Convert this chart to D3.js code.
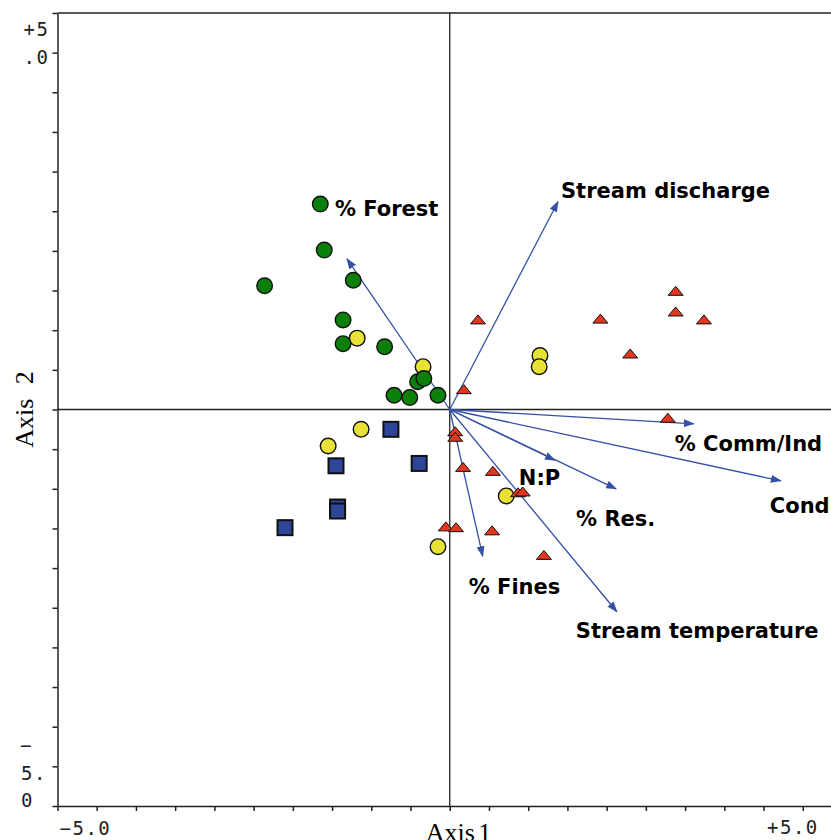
<!DOCTYPE html>
<html>
<head>
<meta charset="utf-8">
<script src="https://cdn.jsdelivr.net/npm/d3@7"></script>
<style>
  body { margin: 0; background: #fff; }
  svg { display: block; }
</style>
</head>
<body>
<svg id="chart" width="831" height="840"></svg>
<script>
// site scores, axis 1 / axis 2
var greenX = [-1.65, -1.60, -2.36, -1.23, -1.36, -1.36, -0.83, -0.41, -0.33, -0.71, -0.51, -0.15];
var greenY = [2.59, 2.01, 1.56, 1.63, 1.13, 0.83, 0.79, 0.35, 0.39, 0.18, 0.15, 0.18];

var yellowX = [-1.18, -0.34, 1.15, 1.14, -1.13, -1.55, 0.72, -0.15];
var yellowY = [0.90, 0.54, 0.68, 0.54, -0.25, -0.46, -1.09, -1.73];

var blueX = [-0.75, -1.45, -0.39, -1.43, -1.43, -2.10];
var blueY = [-0.25, -0.71, -0.68, -1.23, -1.28, -1.49];

var redX = [0.36, 1.92, 2.88, 2.88, 3.24, 2.30, 0.18, 2.78, 0.07, 0.07, 0.17, 0.55, 0.87, 0.93, -0.05, 0.08, 0.54, 1.20];
var redY = [1.13, 1.14, 1.49, 1.23, 1.13, 0.70, 0.25, -0.11, -0.28, -0.35, -0.73, -0.78, -1.05, -1.04, -1.48, -1.49, -1.53, -1.84];

// environmental vectors
var vecNames = ["Stream discharge", "% Forest", "% Comm/Ind", "Cond", "N:P", "% Res.", "% Fines", "Stream temperature"];
var vecX = [1.38, -1.31, 3.11, 4.22, 1.34, 2.12, 0.42, 2.13];
var vecY = [2.62, 1.90, -0.18, -0.90, -0.64, -1.00, -1.85, -2.55];

// label offsets from the arrow tip (px)
var labelDx = [3, -12, -19, -11, -36, -40, -14, -41];
var labelDy = [-4, -43, 27, 32, 25, 37, 38, 26];

var svg = d3.select("#chart");

var x = d3.scaleLinear().domain([-5, 5]).range([57.5, 842]);
var y = d3.scaleLinear().domain([-5, 5]).range([806, 13]);

var ticks = d3.range(-5, 5.001, 0.5);

// frame top
svg.append("line")
  .attr("x1", x(-5)).attr("x2", 831)
  .attr("y1", y(5)).attr("y2", y(5))
  .attr("stroke", "#222").attr("stroke-width", 1.5);

// bottom axis
svg.append("g")
  .attr("transform", "translate(0," + y(-5) + ")")
  .call(d3.axisBottom(x).tickValues(ticks).tickFormat("").tickSize(5).tickSizeOuter(0))
  .call(function(g) {
    g.selectAll("path, line").attr("stroke", "#222").attr("stroke-width", 1.5);
  });

// left axis
svg.append("g")
  .attr("transform", "translate(" + x(-5) + ",0)")
  .call(d3.axisLeft(y).tickValues(ticks).tickFormat("").tickSize(5).tickSizeOuter(0))
  .call(function(g) {
    g.selectAll("path, line").attr("stroke", "#222").attr("stroke-width", 1.5);
  });

// origin lines
svg.append("line")
  .attr("x1", x(0)).attr("x2", x(0))
  .attr("y1", y(5)).attr("y2", y(-5))
  .attr("stroke", "#222").attr("stroke-width", 1.3);
svg.append("line")
  .attr("x1", x(-5)).attr("x2", 831)
  .attr("y1", y(0)).attr("y2", y(0))
  .attr("stroke", "#222").attr("stroke-width", 1.3);

// tick labels
var mono = "'DejaVu Sans Mono', monospace";
function tickText(txt, tx, ty, anchor) {
  svg.append("text")
    .attr("x", tx).attr("y", ty)
    .attr("text-anchor", anchor || "start")
    .style("font-family", mono)
    .style("font-size", "19px")
    .style("letter-spacing", "1.5px")
    .attr("fill", "#222")
    .text(txt);
}
tickText("+5", x(-5) - 8, y(5) + 23, "end");
tickText(".0", x(-5) - 8, y(5) + 51, "end");
tickText("\u2212", 20, y(-5) - 54);
tickText("5.", 21, y(-5) - 26);
tickText("0", 21, y(-5) + 1);
tickText("\u22125.0", x(-5) + 2, 835);
tickText("+5.0", x(5) - 75, 834);

// axis titles
svg.append("text")
  .attr("x", x(0) - 24).attr("y", 841)
  .style("font-family", "'Liberation Serif', 'Times New Roman', serif")
  .style("font-size", "26px")
  .style("word-spacing", "-3px")
  .text("Axis 1");
svg.append("text")
  .attr("transform", "translate(33," + y(0) + ") rotate(-90)")
  .attr("text-anchor", "middle")
  .style("font-family", "'Liberation Serif', 'Times New Roman', serif")
  .style("font-size", "26px")
  .style("word-spacing", "8px")
  .text("Axis 2");

// arrow marker
svg.append("defs").append("marker")
  .attr("id", "head")
  .attr("markerUnits", "userSpaceOnUse")
  .attr("markerWidth", 11).attr("markerHeight", 8)
  .attr("refX", 10).attr("refY", 4)
  .attr("orient", "auto")
  .append("path")
  .attr("d", "M0,0 L11,4 L0,8 Z")
  .attr("fill", "#3550a5");

var vecs = vecNames.map(function(n, i) {
  return { name: n, x: vecX[i], y: vecY[i], dx: labelDx[i], dy: labelDy[i] };
});

svg.append("g").selectAll("line")
  .data(vecs).enter()
  .append("line")
  .attr("x1", x(0)).attr("y1", y(0))
  .attr("x2", function(d) { return x(d.x); })
  .attr("y2", function(d) { return y(d.y); })
  .attr("stroke", "#3550a5")
  .attr("stroke-width", 1.3)
  .attr("marker-end", "url(#head)");

// points
function zipXY(xs, ys) {
  return xs.map(function(v, i) { return { x: v, y: ys[i] }; });
}

svg.append("g").selectAll("circle")
  .data(zipXY(yellowX, yellowY)).enter()
  .append("circle")
  .attr("cx", function(d) { return x(d.x); })
  .attr("cy", function(d) { return y(d.y); })
  .attr("r", 7.8)
  .attr("fill", "#e9e236")
  .attr("stroke", "#111").attr("stroke-width", 1.4);

svg.append("g").selectAll("circle")
  .data(zipXY(greenX, greenY)).enter()
  .append("circle")
  .attr("cx", function(d) { return x(d.x); })
  .attr("cy", function(d) { return y(d.y); })
  .attr("r", 7.8)
  .attr("fill", "#0a800a")
  .attr("stroke", "#111").attr("stroke-width", 1.4);

svg.append("g").selectAll("rect")
  .data(zipXY(blueX, blueY)).enter()
  .append("rect")
  .attr("x", function(d) { return x(d.x) - 7.5; })
  .attr("y", function(d) { return y(d.y) - 7.5; })
  .attr("width", 15).attr("height", 15)
  .attr("fill", "#2e4697")
  .attr("stroke", "#111").attr("stroke-width", 2);

var tri = "M0,-5 L7.5,4 L-7.5,4 Z";
svg.append("g").selectAll("path")
  .data(zipXY(redX, redY)).enter()
  .append("path")
  .attr("transform", function(d) { return "translate(" + x(d.x) + "," + y(d.y) + ")"; })
  .attr("d", tri)
  .attr("fill", "#e2361f")
  .attr("stroke", "#111").attr("stroke-width", 1);

// vector labels
svg.append("g").selectAll("text")
  .data(vecs).enter()
  .append("text")
  .attr("x", function(d) { return x(d.x) + d.dx; })
  .attr("y", function(d) { return y(d.y) + d.dy; })
  .style("font-family", "'DejaVu Sans', Verdana, sans-serif")
  .style("font-weight", "bold")
  .style("font-size", "21px")
  .attr("fill", "#000")
  .text(function(d) { return d.name; });
</script>
</body>
</html>
